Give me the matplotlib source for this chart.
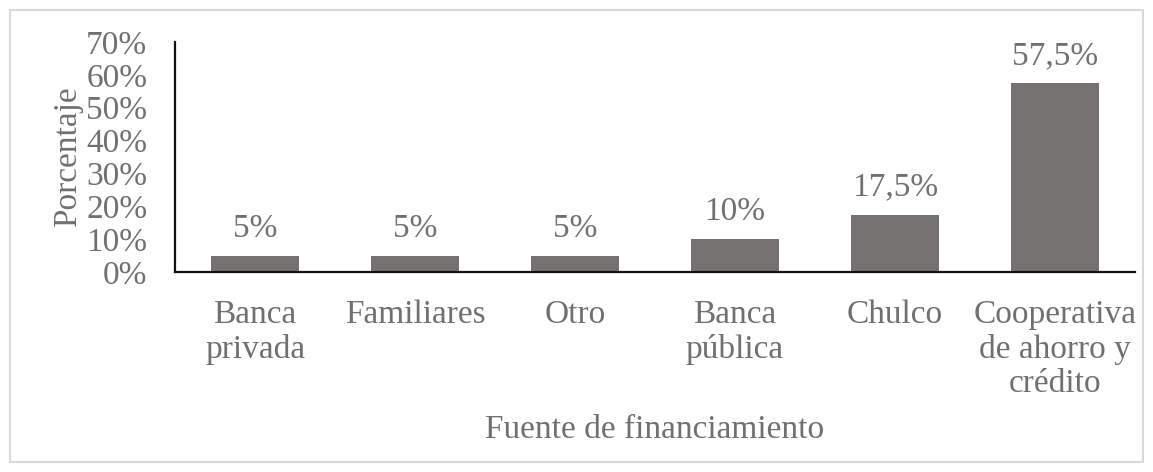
import matplotlib.pyplot as plt
from matplotlib.patches import Rectangle

# Data
categories = ["Banca\nprivada", "Familiares", "Otro", "Banca\npública", "Chulco",
              "Cooperativa\nde ahorro y\ncrédito"]
values = [5, 5, 5, 10, 17.5, 57.5]
value_labels = ["5%", "5%", "5%", "10%", "17,5%", "57,5%"]
yticks = [0, 10, 20, 30, 40, 50, 60, 70]

text_color = "#707070"
bar_color = "#767171"
plt.rcParams["font.family"] = ["Liberation Serif", "DejaVu Serif"]

fig = plt.figure(figsize=(11.53, 4.72), dpi=100)
ax = fig.add_axes([175 / 1153, 1 - 272 / 472, 960 / 1153, 230 / 472])

x = range(len(categories))
bars = ax.bar(x, values, width=0.55, color=bar_color)

for xi, v, lab in zip(x, values, value_labels):
    ax.annotate(lab, (xi, v), xytext=(0, 27), textcoords="offset pixels",
                ha="center", va="center", fontsize=24, color=text_color)

ax.set_xlim(-0.5, len(categories) - 0.5)
ax.set_ylim(0, 70)
ax.set_yticks(yticks)
ax.set_yticklabels([f"{t}%" for t in yticks])
ax.set_xticks(list(x))
ax.set_xticklabels(categories, linespacing=1.15)
ax.tick_params(axis="both", length=0, labelsize=24, labelcolor=text_color)
ax.tick_params(axis="x", pad=20)
ax.tick_params(axis="y", pad=20)

for s in ["top", "right"]:
    ax.spines[s].set_visible(False)
for s in ["left", "bottom"]:
    ax.spines[s].set_linewidth(1.6)
    ax.spines[s].set_color("#111111")

ax.set_ylabel("Porcentaje", fontsize=24, color=text_color, labelpad=2)
ax.set_xlabel("Fuente de financiamiento", fontsize=24, color=text_color, labelpad=11)

# Outer chart border
fig.patches.append(Rectangle((10 / 1153, 10 / 472), 1133 / 1153, 452 / 472,
                             transform=fig.transFigure, fill=False,
                             edgecolor="#d9d9d9", linewidth=1.5))

fig.savefig("out.png", dpi=100)
